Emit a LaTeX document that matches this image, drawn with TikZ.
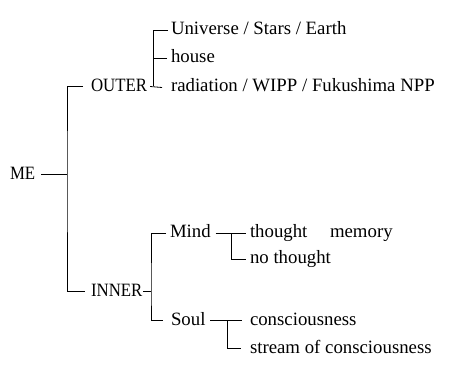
\documentclass[tikz,border=0pt]{standalone}
\usepackage{graphicx}
\usepackage{fontspec}
\setmainfont{Liberation Serif}
\newcommand{\narrowcaps}[1]{\scalebox{0.895}[1]{#1}}
\begin{document}
\begin{tikzpicture}[x=1pt,y=-1pt,
  lbl/.style={anchor=base west,inner sep=0pt,outer sep=0pt,text height=9pt,text depth=0pt,font=\fontsize{18.8}{22}\selectfont},
  caps/.style={lbl,text height=11pt},
  conn/.style={line width=0.8pt,black}]
\useasboundingbox (0,0) rectangle (458,382);
% nodes
\node[caps] (me) at (10,180) {\narrowcaps{ME}};
\node[caps] (outer) at (91,92) {\narrowcaps{OUTER}};
\node[caps] (inner) at (91,297) {\narrowcaps{INNER}};
\node[lbl] (univ) at (171,35) {Universe / Stars / Earth};
\node[lbl] (house) at (171,63) {house};
\node[lbl] (rad) at (171,92) {radiation / WIPP / Fukushima NPP};
\node[lbl] (mind) at (170,238) {Mind};
\node[lbl] (soul) at (171,325) {Soul};
\node[lbl] (thought) at (250,238) {thought};
\node[lbl] (memory) at (330,238) {memory};
\node[lbl] (nothought) at (250,264) {no thought};
\node[lbl] (cons) at (250,325) {consciousness};
\node[lbl] (stream) at (250,353) {stream of consciousness};
% junctions
\coordinate (j1) at (me.east -| 67,0);
\coordinate (b1) at (outer.east -| 153,0);
\coordinate (b2) at (inner.east -| 151,0);
\coordinate (m1) at (mind.east -| 231,0);
\coordinate (s1) at (soul.east -| 227,0);
% connectors
\draw[conn] ([xshift=6pt]me.east) -- (j1);
\draw[conn] ([xshift=-8pt]outer.west) -| (j1) |- ([xshift=-6pt]inner.west);
\draw[conn] ([xshift=3pt]outer.east) -- ([xshift=-9pt]rad.west);
\draw[conn] ([xshift=-3pt]univ.west) -| (b1);
\draw[conn] ([xshift=-4pt]house.west) -- (house.west -| b1);
\draw[conn] ([xshift=1pt]inner.east) -- (b2);
\draw[conn] ([xshift=-4pt]mind.west) -| (b2) |- ([xshift=-8pt]soul.west);
\draw[conn] ([xshift=5pt]mind.east) -- ([xshift=-4pt]thought.west);
\draw[conn] (m1) |- ([xshift=-4pt]nothought.west);
\draw[conn] ([xshift=5pt]soul.east) -- ([xshift=-8pt]cons.west);
\draw[conn] (s1) |- ([xshift=-9pt]stream.west);
\end{tikzpicture}
\end{document}
